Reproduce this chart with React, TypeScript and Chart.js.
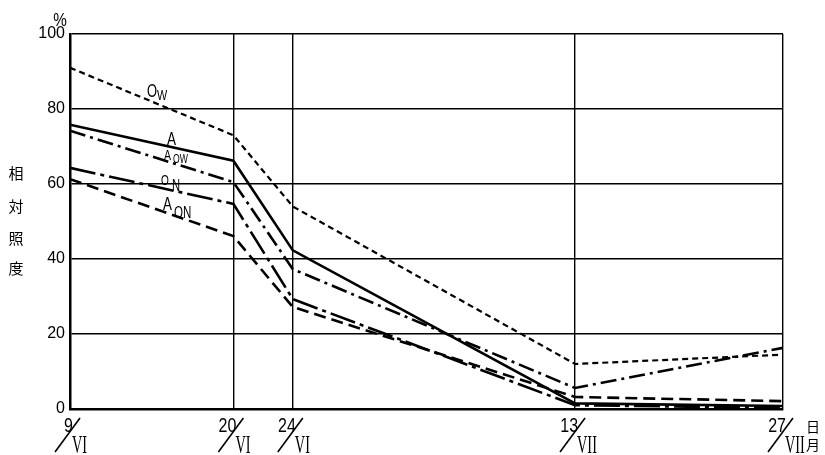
import { useEffect, useRef } from "react";
import { Chart, registerables } from "chart.js";

Chart.register(...registerables);

// days counted from 9 June
const dayOffsets = [0, 11, 15, 34, 48];
const dayLabels = ["9", "20", "24", "13", "27"];
const monthLabels = ["VI", "VI", "VI", "VII", "VII"];
const yTickValues = [0, 20, 40, 60, 80, 100];

const seriesOw = [91, 73, 54, 12, 14.5];
const seriesA = [75.8, 66.2, 42.3, 1.5, 0.8];
const seriesAow = [74.2, 60.5, 37.3, 5.6, 16.3];
const seriesOn = [64.3, 54.7, 29.3, 1.0, 0.3];
const seriesAon = [61.3, 46.1, 27.2, 3.2, 2.1];

const yTitleChars = ["相", "対", "照", "度"];

const SANS = '"Liberation Sans", Arial, sans-serif';
const SERIF = '"Liberation Serif", "DejaVu Serif", serif';
const CJK = '"Noto Sans CJK JP", "Noto Sans CJK SC", sans-serif';

function txt(
  ctx: CanvasRenderingContext2D,
  s: string,
  x: number,
  y: number,
  size: number,
  family: string,
  sx = 1,
  align: CanvasTextAlign = "left",
  baseline: CanvasTextBaseline = "alphabetic"
) {
  ctx.save();
  ctx.translate(x, y);
  ctx.scale(sx, 1);
  ctx.font = `${size}px ${family}`;
  ctx.textAlign = align;
  ctx.textBaseline = baseline;
  ctx.fillStyle = "#000";
  ctx.fillText(s, 0, 0);
  ctx.restore();
}

const decorPlugin = {
  id: "decor",
  afterDraw(chart: any) {
    const ctx: CanvasRenderingContext2D = chart.ctx;
    const xs = chart.scales.x;
    const area = chart.chartArea;
    // percent sign
    txt(ctx, "%", 60, 26, 18, SANS, 0.85, "center");
    // y title
    const ys = [173, 206, 238, 268];
    yTitleChars.forEach((c, i) => txt(ctx, c, 16, ys[i], 15, CJK, 1, "center", "middle"));
    // x tick labels as fractions
    dayOffsets.forEach((d, i) => {
      const px = xs.getPixelForValue(d);
      txt(ctx, dayLabels[i], px + 3, 432, 20, SANS, 0.8, "right");
      ctx.save();
      ctx.strokeStyle = "#000";
      ctx.lineWidth = 1.6;
      ctx.beginPath();
      ctx.moveTo(px - 15, 452);
      ctx.lineTo(px + 10, 418);
      ctx.stroke();
      ctx.restore();
      txt(ctx, monthLabels[i], px + 2, 453, 26, SERIF, 0.55, "left");
    });
    // units
    txt(ctx, "日", area.right + 30, 427, 14, CJK, 1, "center", "middle");
    txt(ctx, "月", area.right + 30, 445, 14, CJK, 1, "center", "middle");
    // series labels
    txt(ctx, "O", 147, 97, 18, SANS, 0.72);
    txt(ctx, "W", 157, 100, 15, SANS, 0.72);
    txt(ctx, "A", 167, 145, 18, SANS, 0.75);
    txt(ctx, "A", 164, 160, 14, SANS, 0.75);
    txt(ctx, "OW", 173, 163, 12, SANS, 0.72);
    txt(ctx, "O", 161, 185, 14, SANS, 0.72);
    txt(ctx, "N", 172, 191, 16, SANS, 0.7);
    txt(ctx, "A", 163, 210, 19, SANS, 0.7);
    txt(ctx, "ON", 174, 218, 17, SANS, 0.68);
  },
};

function pts(values: number[]) {
  return dayOffsets.map((x, i) => ({ x, y: values[i] }));
}

export default function App() {
  const ref = useRef<HTMLCanvasElement | null>(null);
  useEffect(() => {
    if (!ref.current) return;
    const base = {
      borderColor: "#000",
      backgroundColor: "#000",
      pointRadius: 0,
      tension: 0,
      fill: false,
    };
    const chart = new Chart(ref.current, {
      type: "line",
      data: {
        datasets: [
          { ...base, label: "Ow", data: pts(seriesOw), borderWidth: 2.2, borderDash: [6, 4] },
          { ...base, label: "A", data: pts(seriesA), borderWidth: 2.6 },
          { ...base, label: "Aow", data: pts(seriesAow), borderWidth: 2.6, borderDash: [16, 5, 3, 5] },
          { ...base, label: "ON", data: pts(seriesOn), borderWidth: 2.6, borderDash: [26, 5, 4, 5] },
          { ...base, label: "AON", data: pts(seriesAon), borderWidth: 2.6, borderDash: [12, 6] },
        ],
      },
      options: {
        responsive: false,
        animation: false,
        layout: { padding: { left: 8, top: 34, right: 42, bottom: 46 } },
        plugins: { legend: { display: false }, tooltip: { enabled: false } },
        scales: {
          x: {
            type: "linear",
            min: 0,
            max: 48,
            afterBuildTicks: (scale: any) => {
              scale.ticks = dayOffsets.map((v) => ({ value: v }));
            },
            afterFit: (scale: any) => {
              scale.height = 0;
            },
            ticks: { display: false },
            grid: { color: "#000", lineWidth: 1.4, drawTicks: false },
            border: { color: "#000", width: 2.5 },
          },
          y: {
            min: 0,
            max: 100,
            afterBuildTicks: (scale: any) => {
              scale.ticks = yTickValues.map((v) => ({ value: v }));
            },
            afterFit: (scale: any) => {
              scale.width = 62;
            },
            ticks: {
              color: "#000",
              padding: 5,
              font: { family: SANS, size: 16 },
            },
            grid: { color: "#000", lineWidth: 1.4, drawTicks: false },
            border: { color: "#000", width: 2.5 },
          },
        },
      },
      plugins: [decorPlugin],
    } as any);
    return () => chart.destroy();
  }, []);
  return (
    <div style={{ position: "absolute", left: 0, top: 0, width: 825, height: 455, background: "#fff" }}>
      <canvas ref={ref} width={825} height={455} />
    </div>
  );
}
